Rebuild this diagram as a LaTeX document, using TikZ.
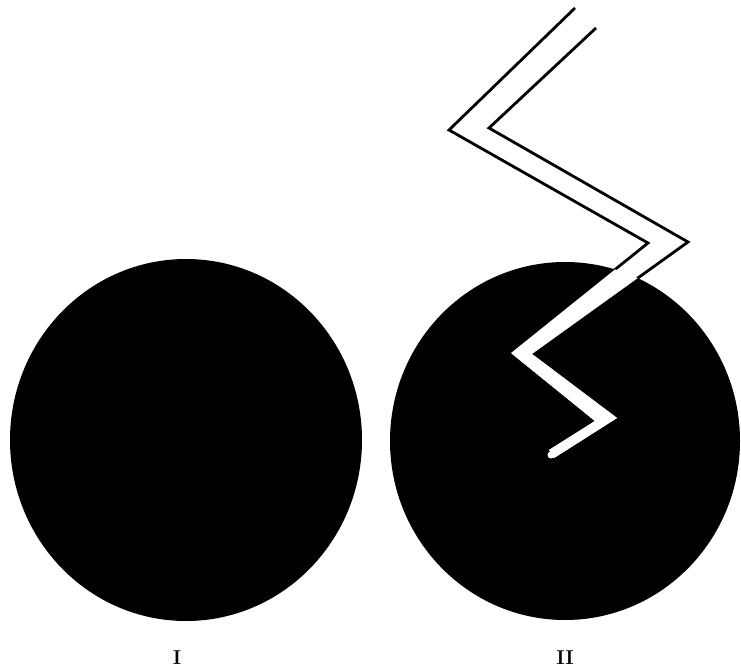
\documentclass[tikz,border=0pt]{standalone}
\begin{document}
\begin{tikzpicture}[x=1pt,y=-1pt,
  bandedge/.style={draw=black,line width=2.8pt,line join=miter,line cap=butt},
  lab/.style={font=\fontsize{20}{20}\selectfont\bfseries,inner sep=0pt,text=black}]
\useasboundingbox (0,0) rectangle (741,669);
\fill[white] (0,0) rectangle (741,669);
% discs
\coordinate (c1) at (186,440);
\coordinate (c2) at (565,441);
\fill[black] (c1) ellipse [x radius=176, y radius=181];
\fill[black] (c2) ellipse [x radius=175, y radius=179];
% zigzag band: edge A (outer/left) and edge B
\coordinate (A1) at (575,8);
\coordinate (A2) at (449,130);
\coordinate (A3) at (648,243);
\coordinate (A4) at (511,353);
\coordinate (A5) at (595,421);
\coordinate (A6) at (549,450);
\coordinate (B1) at (596,28);
\coordinate (B2) at (489,128);
\coordinate (B3) at (688,242);
\coordinate (B4) at (532,354);
\coordinate (B5) at (617,418);
\coordinate (B6) at (554,458);
\coordinate (K) at (551,455);
\fill[white] (A1) -- (A2) -- (A3) -- (A4) -- (A5) -- (A6) -- (B6) -- (B5) -- (B4) -- (B3) -- (B2) -- (B1) -- cycle;
\draw[bandedge] (A1) -- (A2) -- (A3) -- (A4);
\draw[bandedge] (B1) -- (B2) -- (B3) -- (B4);
\begin{scope}
  \clip (c2) ellipse [x radius=175, y radius=179];
  \fill[white] (A1) -- (A2) -- (A3) -- (A4) -- (A5) -- (A6) -- (B6) -- (B5) -- (B4) -- (B3) -- (B2) -- (B1) -- cycle;
  \fill[white] (K) circle [radius=3.5];
\end{scope}
% labels
\node[lab] (l1) at (177,658) {I};
\node[lab] (l2) at (565,658) {II};
\end{tikzpicture}
\end{document}
